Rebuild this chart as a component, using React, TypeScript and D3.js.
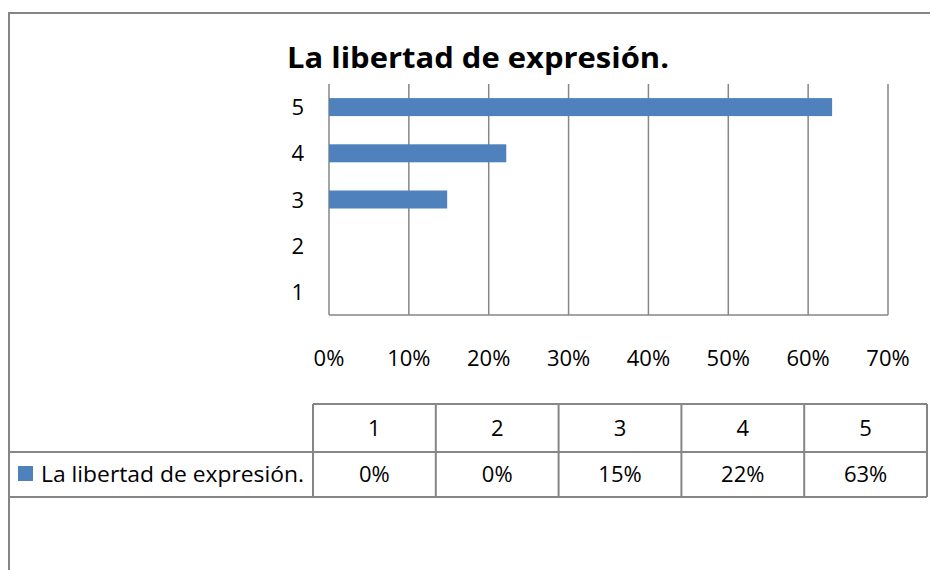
import React from "react";
import * as d3 from "d3";

const TITLE = "La libertad de expresión.";
const SERIES_NAME = "La libertad de expresión.";
const CATEGORIES = ["1", "2", "3", "4", "5"];
const VALUES = [0, 0, 0.148, 0.222, 0.63];
const TABLE_LABELS = ["0%", "0%", "15%", "22%", "63%"];
const X_TICKS = [0, 0.1, 0.2, 0.3, 0.4, 0.5, 0.6, 0.7];

const W = 930;
const H = 570;
const FONT = "'Open Sans', 'Noto Sans', sans-serif";
const BAR = "#4F81BD";
const GRID = "#868686";
const FS = 22;

export default function App() {
  const x = d3.scaleLinear().domain([0, 0.7]).range([329, 888]);
  const yBand = d3.scaleBand<string>().domain([...CATEGORIES].reverse()).range([84, 315]);
  const fmt = d3.format(".0%");

  const col = d3.scaleBand<string>().domain(CATEGORIES).range([313, 927]);

  return (
    <svg
      width={W}
      height={H}
      style={{ position: "absolute", left: 0, top: 0, background: "#fff" }}
      fontFamily={FONT}
    >
      {/* outer frame */}
      <path d={`M9,570 V13 H930`} fill="none" stroke={GRID} strokeWidth={2} />

      {/* title */}
      <text
        x={478}
        y={68}
        textAnchor="middle"
        fontSize={29}
        fontWeight="bold"
        textLength={382}
        lengthAdjust="spacingAndGlyphs"
        fill="#000"
      >
        {TITLE}
      </text>

      {/* gridlines */}
      {X_TICKS.map((t) => (
        <line key={t} x1={x(t)} x2={x(t)} y1={84} y2={315} stroke={GRID} strokeWidth={1.5} />
      ))}
      <line x1={x(0)} x2={x(0.7)} y1={315} y2={315} stroke={GRID} strokeWidth={1.5} />

      {/* bars */}
      {CATEGORIES.map((c, i) =>
        VALUES[i] > 0 ? (
          <rect
            key={c}
            x={x(0)}
            y={yBand(c)! + yBand.bandwidth() / 2 - 9}
            width={x(VALUES[i]) - x(0)}
            height={18}
            fill={BAR}
          />
        ) : null
      )}

      {/* y labels */}
      {CATEGORIES.map((c) => (
        <text
          key={c}
          x={304}
          y={yBand(c)! + yBand.bandwidth() / 2 + 8}
          textAnchor="end"
          fontSize={FS}
          fill="#000"
        >
          {c}
        </text>
      ))}

      {/* x labels */}
      {X_TICKS.map((t) => (
        <text key={t} x={x(t)} y={366} textAnchor="middle" fontSize={FS} fill="#000">
          {fmt(t)}
        </text>
      ))}

      {/* data table */}
      <line x1={313} x2={927} y1={404} y2={404} stroke={GRID} strokeWidth={2} />
      <line x1={8} x2={927} y1={452} y2={452} stroke={GRID} strokeWidth={2} />
      <line x1={8} x2={927} y1={497} y2={497} stroke={GRID} strokeWidth={2} />
      {[...CATEGORIES.map((c) => col(c)!), 927].map((vx, i) => (
        <line key={i} x1={vx} x2={vx} y1={404} y2={497} stroke={GRID} strokeWidth={2} />
      ))}
      {CATEGORIES.map((c, i) => (
        <g key={c}>
          <text
            x={col(c)! + col.bandwidth() / 2}
            y={436}
            textAnchor="middle"
            fontSize={FS}
            fill="#000"
          >
            {c}
          </text>
          <text
            x={col(c)! + col.bandwidth() / 2}
            y={482}
            textAnchor="middle"
            fontSize={FS}
            fill="#000"
          >
            {TABLE_LABELS[i]}
          </text>
        </g>
      ))}

      {/* legend key */}
      <rect x={18} y={466} width={15} height={15} fill={BAR} />
      <text
        x={41}
        y={482}
        fontSize={FS}
        fill="#000"
        textLength={263}
        lengthAdjust="spacingAndGlyphs"
      >
        {SERIES_NAME}
      </text>
    </svg>
  );
}
